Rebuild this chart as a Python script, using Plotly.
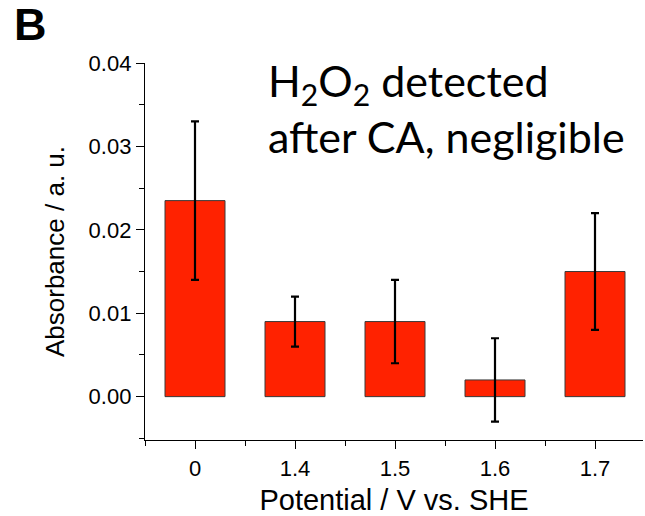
import plotly.graph_objects as go

categories = ["0", "1.4", "1.5", "1.6", "1.7"]
absorbance = [0.0235, 0.009, 0.009, 0.002, 0.015]
err_plus = [0.0095, 0.003, 0.005, 0.005, 0.007]
err_minus = [0.0095, 0.003, 0.005, 0.005, 0.007]
yticks = [0.00, 0.01, 0.02, 0.03, 0.04]

xpos = list(range(len(categories)))

fig = go.Figure()
fig.add_trace(go.Bar(
    x=xpos, y=absorbance, width=0.6,
    marker=dict(color="#FF2200", line=dict(color="#3a3a3a", width=1)),
    error_y=dict(type="data", symmetric=False, array=err_plus, arrayminus=err_minus,
                 color="black", thickness=2.2, width=4),
))

font_axis = "Liberation Sans, Arial, sans-serif"
L, T, PW, PH = 145, 63, 498, 377
fig.update_layout(
    width=645, height=516,
    margin=dict(l=L, r=645 - L - PW, t=T, b=516 - T - PH),
    plot_bgcolor="white", paper_bgcolor="white",
    showlegend=False,
    font=dict(family=font_axis, color="black"),
    xaxis=dict(
        range=[-0.5, 4.48], tickvals=xpos, ticktext=categories,
        showline=True, linecolor="black", linewidth=1.3,
        ticks="outside", ticklen=8, tickwidth=1.3, tickcolor="black",
        showgrid=False, zeroline=False,
        tickfont=dict(size=22, family=font_axis),
        minor=dict(tickvals=[-0.5, 0.5, 1.5, 2.5, 3.5, 4.5], ticks="outside",
                   ticklen=5, tickwidth=1.3, tickcolor="black", showgrid=False),
        title=dict(text="Potential / V vs. SHE", font=dict(size=29, family=font_axis), standoff=14),
    ),
    yaxis=dict(
        range=[-0.0052, 0.04], tickvals=yticks, ticktext=[f"{v:.2f}" for v in yticks],
        showline=True, linecolor="black", linewidth=1.3,
        ticks="outside", ticklen=8, tickwidth=1.3, tickcolor="black",
        showgrid=False, zeroline=False,
        tickfont=dict(size=22, family=font_axis),
        minor=dict(dtick=0.005, tick0=0, ticks="outside", ticklen=5, tickwidth=1.3,
                   tickcolor="black", showgrid=False),
        title=dict(text="Absorbance / a. u.", font=dict(size=26, family=font_axis), standoff=16),
    ),
    annotations=[
        dict(text="<b>B</b>", x=(12 - L) / PW, y=1 + (T + 3) / PH, xref="paper", yref="paper",
             showarrow=False, font=dict(size=45, family=font_axis),
             xanchor="left", yanchor="top"),
        dict(text="H<sub>2</sub>O<sub>2</sub> detected<br>after CA, negligible",
             x=(266 - L) / PW, y=1 + (T - 53) / PH, xref="paper", yref="paper",
             showarrow=False, align="left",
             xanchor="left", yanchor="top", font=dict(size=43, family="Lato, sans-serif")),
    ],
)
fig.write_html("out.html")
